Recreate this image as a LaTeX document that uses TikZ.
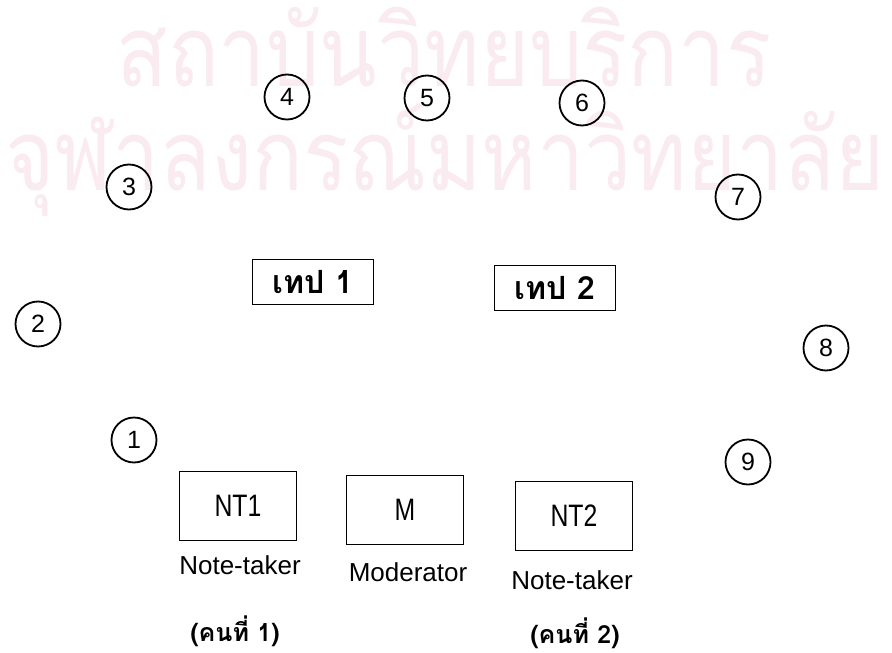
\documentclass[tikz,border=0pt]{standalone}
\usepackage{fontspec}
\setmainfont{Liberation Sans}
\newfontfamily\thaifont[Script=Thai]{Loma}
\newfontfamily\wmfont[Script=Thai, FakeStretch=0.85]{Loma}
\newfontfamily\narrowfont[FakeStretch=0.8]{Liberation Sans}
\definecolor{wmpink}{RGB}{250,235,241}

\begin{document}
\begin{tikzpicture}[x=1pt, y=-1pt,
  seat/.style={circle, draw, line width=1.8pt, minimum size=45pt, inner sep=0pt, font=\fontsize{25}{25}\selectfont},
  tapebox/.style={draw, line width=1.8pt, minimum width=121pt, minimum height=45pt, inner sep=0pt, font=\thaifont\bfseries\fontsize{32}{32}\selectfont},
  desk/.style={draw, line width=1.8pt, minimum width=117pt, minimum height=69pt, inner sep=0pt, font=\narrowfont\fontsize{31}{31}\selectfont},
  role/.style={font=\fontsize{26}{26}\selectfont, inner sep=0pt},
  who/.style={font=\thaifont\bfseries\fontsize{25}{25}\selectfont, inner sep=0pt},
  watermark/.style={text=wmpink, font=\wmfont\fontsize{99}{99}\selectfont, inner sep=0pt}
]
\useasboundingbox (0,0) rectangle (892,653);
% watermark behind the plan
\node[watermark, anchor=base] (wmtop) at (444,86) {สถาบันวิทยบริการ};
\node[watermark, anchor=base] (wmbottom) at (445,190) {จุฬาลงกรณ์มหาวิทยาลัย};
% participants round the table
\node[seat] (p1) at (134,440) {1};
\node[seat] (p2) at (38,324) {2};
\node[seat] (p3) at (129,187) {3};
\node[seat] (p4) at (287,97) {4};
\node[seat] (p5) at (427,98) {5};
\node[seat] (p6) at (582,103) {6};
\node[seat] (p7) at (738,197) {7};
\node[seat] (p8) at (826,348) {8};
\node[seat] (p9) at (748,462) {9};
% recorders
\node[tapebox] (tape1) at (313,282) {เทป 1};
\node[tapebox] (tape2) at (555,288) {เทป 2};
% staff desks
\node[desk] (nt1) at (238,506) {NT1};
\node[desk] (mod) at (405,510) {M};
\node[desk] (nt2) at (574,516) {NT2};
\node[role, anchor=base] (nt1role) at (240,574) {Note-taker};
\node[role, anchor=base] (modrole) at (408,581) {Moderator};
\node[role, anchor=base] (nt2role) at (572,589) {Note-taker};
\node[who, anchor=base] (nt1who) at (235,641) {(คนที่ 1)};
\node[who, anchor=base] (nt2who) at (575,643) {(คนที่ 2)};
\end{tikzpicture}
\end{document}
